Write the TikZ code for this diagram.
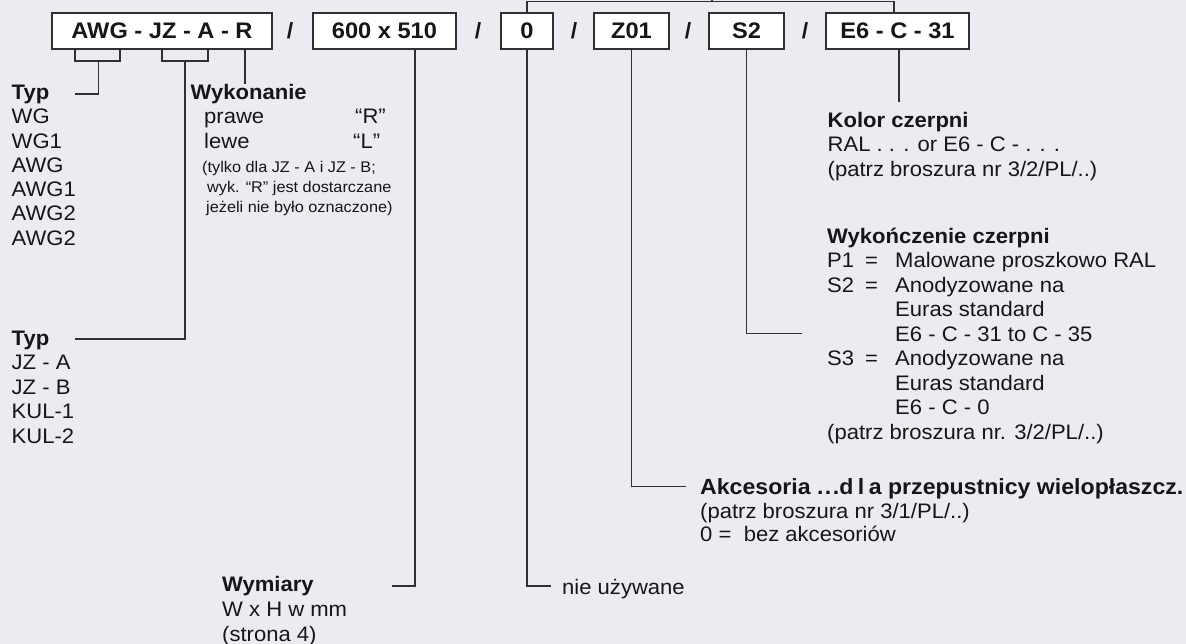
\documentclass[tikz,border=0pt]{standalone}
\usepackage{fontspec}
\setmainfont{Liberation Sans}[FakeStretch=1.05]
\definecolor{bg}{RGB}{237,234,242}
\definecolor{ink}{RGB}{22,22,24}
\definecolor{ln}{RGB}{48,48,52}
\tikzset{
  box/.style={draw=ln, line width=1.2pt, fill=white, minimum height=36pt, inner sep=0pt,
              font=\fontsize{22.5}{26}\selectfont\bfseries, text=ink},
  conn/.style={draw=ln, line width=1.1pt},
  txt/.style={anchor=base west, inner sep=0pt, font=\fontsize{21}{24}\selectfont, text=ink},
  hd/.style={anchor=base west, inner sep=0pt, font=\fontsize{21}{24}\selectfont\bfseries, text=ink},
  small/.style={anchor=base west, inner sep=0pt, font=\fontsize{15.5}{19}\selectfont, text=ink},
  slash/.style={inner sep=0pt, font=\fontsize{22}{26}\selectfont\bfseries, text=ink},
}
\begin{document}
\begin{tikzpicture}[x=1pt,y=-1pt]
\fill[bg] (0,0) rectangle (1186,644);
\useasboundingbox (0,0) rectangle (1186,644);

% code boxes
\node[box, minimum width=220pt] (b1) at (162,31) {AWG - JZ - A - R};
\node[slash] (s1) at (290,31) {/};
\node[box, minimum width=143pt] (b2) at (384.5,31) {600 x 510};
\node[slash] (s2) at (478,31) {/};
\node[box, minimum width=52pt] (b3) at (527,31) {0};
\node[slash] (s3) at (574,31) {/};
\node[box, minimum width=75pt] (b4) at (631.5,31) {Z01};
\node[slash] (s4) at (688,31) {/};
\node[box, minimum width=75pt] (b5) at (746.5,31) {S2};
\node[slash] (s5) at (805,31) {/};
\node[box, minimum width=143pt] (b6) at (897.5,31) {E6 - C - 31};

% top bracket
\coordinate (topR) at (894,1.5);
\coordinate (topT) at (712,1.5);
\coordinate (topTe) at (712,-2);
\draw[conn] (b3.north) |- (topR) -- (b6.north -| topR);
\draw[conn] (topT) -- (topTe);

% AWG bracket -> Typ
\coordinate (brA1) at (75,61);
\coordinate (brA2) at (120,61);
\coordinate (brAc) at (98.7,61);
\coordinate (typAline) at (75,94);
\draw[conn] (b1.south -| brA1) -- (brA1) -- (brA2) -- (b1.south -| brA2);
\draw[conn] (brAc) |- (typAline);

% JZ-A bracket -> Typ
\coordinate (brB1) at (162,61);
\coordinate (brB2) at (208,61);
\coordinate (brBc) at (185,61);
\coordinate (typBline) at (75,339);
\draw[conn] (b1.south -| brB1) -- (brB1) -- (brB2) -- (b1.south -| brB2);
\draw[conn] (brBc) |- (typBline);

% R -> Wykonanie
\coordinate (rEnd) at (245,84);
\draw[conn] (b1.south -| rEnd) -- (rEnd);

% 600 x 510 -> Wymiary
\coordinate (wymC) at (415,586);
\coordinate (wymEnd) at (392,586);
\draw[conn] (b2.south -| wymC) -- (wymC) -- (wymEnd);

% 0 -> nie uzywane
\coordinate (nieEnd) at (551,586);
\draw[conn] (b3.south) |- (nieEnd);

% Z01 -> Akcesoria
\coordinate (akcEnd) at (686,486.5);
\draw[conn] (b4.south) |- (akcEnd);

% S2 -> Wykonczenie
\coordinate (wykEnd) at (802,333.3);
\draw[conn] (b5.south) |- (wykEnd);

% E6 -> Kolor
\coordinate (kolEnd) at (899,102);
\draw[conn] (b6.south -| kolEnd) -- (kolEnd);

% Typ (first)
\node[hd] (typA) at (11.5,99.5) {Typ};
\foreach \t [count=\i] in {WG,WG1,AWG,AWG1,AWG2,AWG2}
  \node[txt] (typA\i) at (11.5,{99.5+24.3*\i}) {\t};

% Wykonanie
\node[hd] (wyk) at (190.5,99.5) {Wykonanie};
\node[txt] (prawe) at (204,124) {prawe};
\node[txt] (qR) at (355,124) {“R”};
\node[txt] (lewe) at (204,148.3) {lewe};
\node[txt] (qL) at (353,148.3) {“L”};
\node[small] (n1) at (202,173) {(tylko dla JZ - A i JZ - B;};
\node[small] (n2) at (207,193) {wyk. “R” jest dostarczane};
\node[small] (n3) at (206,212.7) {jeżeli nie było oznaczone)};

% Typ (second)
\node[hd] (typB) at (11.5,345) {Typ};
\foreach \t [count=\i] in {JZ - A,JZ - B,KUL-1,KUL-2}
  \node[txt] (typB\i) at (11.5,{345+24.5*\i}) {\t};

% Kolor czerpni
\node[hd] (kol) at (827.5,127.5) {Kolor czerpni};
\node[txt] (kol1) at (827.5,152) {RAL . . . or E6 - C - . . .};
\node[txt] (kol2) at (827.5,176.5) {(patrz broszura nr 3/2/PL/..)};

% Wykonczenie czerpni
\node[hd] (wk) at (827,243.3) {Wykończenie czerpni};
\node[txt] (wk1a) at (827,267.8) {P1};
\node[txt] (wk1b) at (865,267.8) {=};
\node[txt] (wk1c) at (895,267.8) {Malowane proszkowo RAL};
\node[txt] (wk2a) at (827,292.2) {S2};
\node[txt] (wk2b) at (865,292.2) {=};
\node[txt] (wk2c) at (895,292.2) {Anodyzowane na};
\node[txt] (wk3) at (895,316.7) {Euras standard};
\node[txt] (wk4) at (895,341.1) {E6 - C - 31 to C - 35};
\node[txt] (wk5a) at (827,365.6) {S3};
\node[txt] (wk5b) at (865,365.6) {=};
\node[txt] (wk5c) at (895,365.6) {Anodyzowane na};
\node[txt] (wk6) at (895,390) {Euras standard};
\node[txt] (wk7) at (895,414.5) {E6 - C - 0};
\node[txt] (wk8) at (827,439) {(patrz broszura nr. 3/2/PL/..)};

% Akcesoria
\node[hd, font=\fontsize{22}{25}\selectfont\bfseries] (akc) at (700,494) {Akcesoria .\kern1.5pt.\kern1.5pt.d\kern4.5pt l\kern4.5pt a przepustnicy wielopłaszcz.};
\node[txt] (akc1) at (700,518.3) {(patrz broszura nr 3/1/PL/..)};
\node[txt] (akc2) at (700,541.7) {0 =};
\node[txt] (akc3) at (743.6,541.7) {bez akcesoriów};

% nie uzywane
\node[txt] (nie) at (562,594) {nie używane};

% Wymiary
\node[hd] (wym) at (222,591.7) {Wymiary};
\node[txt] (wym1) at (222,616.5) {W x H w mm};
\node[txt] (wym2) at (222,641) {(strona 4)};
\end{tikzpicture}
\end{document}
